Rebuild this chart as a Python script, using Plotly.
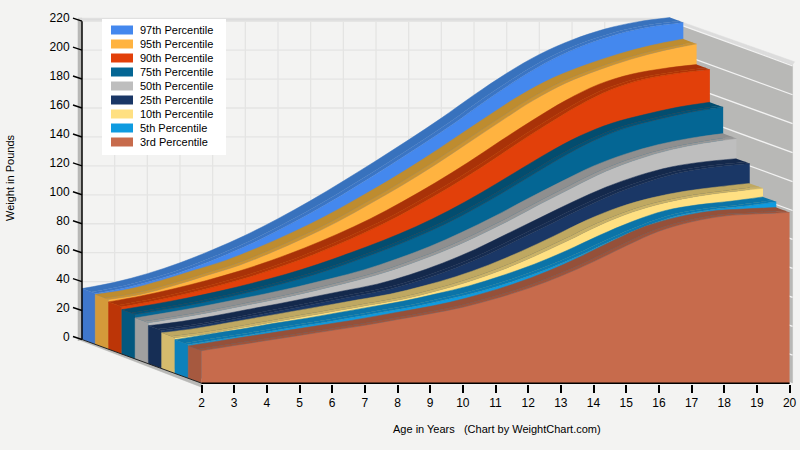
import plotly.graph_objects as go

ages = list(range(2, 21))
names = ["97th Percentile", "95th Percentile", "90th Percentile", "75th Percentile", "50th Percentile",
         "25th Percentile", "10th Percentile", "5th Percentile", "3rd Percentile"]
p97 = [35.2, 39.5, 45.5, 53, 62, 72, 83.5, 96, 109.5, 123.5, 138, 153, 169, 184, 197, 207, 214.5, 219.5, 222.5]
p95 = [34.4, 38, 44, 51, 58, 67, 77, 88, 100.5, 113.5, 127.5, 142.5, 157.5, 172, 184, 193, 200.5, 206.5, 211]
p90 = [32.7, 36.8, 41.8, 47.5, 54, 61.5, 70, 79.5, 90, 102, 115, 129, 144, 158.5, 172, 183, 190, 194, 196.7]
p75 = [30.7, 34.5, 38.7, 43.5, 49, 55, 62, 70, 78.5, 88, 99, 111.5, 125, 138.5, 150.5, 159.5, 165.5, 170.5, 174]
p50 = [28.3, 32, 36, 40.5, 45, 50, 55.5, 61.5, 69, 77.5, 87.5, 98.5, 110.5, 122, 133, 141.5, 148, 152.5, 155.7]
p25 = [26.3, 29.2, 33, 37.3, 41.5, 46, 50.5, 55, 61.5, 69.5, 79, 90, 101, 112, 122, 130, 136, 139.5, 141.7]
p10 = [24.7, 27.6, 31.5, 35.5, 39.5, 43.5, 47.5, 51.5, 57, 63.5, 71.5, 81, 91.5, 102.5, 111.5, 118, 122.5, 125.5, 128]
p5 = [23.3, 27, 30.5, 34.5, 38, 42, 46, 50, 55, 60.5, 67.5, 75.5, 85, 95.5, 105, 112.5, 116.5, 119, 122]
p3 = [22.4, 26, 29.5, 33, 36.5, 40, 44, 48, 52.5, 58.5, 65.5, 74, 84, 95, 105, 111.5, 115.5, 117, 118]
series = [p97, p95, p90, p75, p50, p25, p10, p5, p3]
front_colors = ["#4488EE", "#FFB340", "#E2400A", "#046694", "#BEBEBE", "#1A3766", "#FFE082", "#0F9BE0", "#C76B4C"]
top_colors = ["#3872BD", "#BE8C2F", "#A93208", "#034D6F", "#8F8F8F", "#14294C", "#BFA861", "#0B74A8", "#955039"]
band_colors = ["#3B75C4", "#C99334", "#B23407", "#035377", "#989898", "#162C51", "#CAB267", "#0C7AB1", "#9E543C"]
side_colors = ["#3F77CC", "#D49A3A", "#BC3507", "#03587F", "#A0A0A0", "#162E55", "#D5BB6D", "#0C81BB", "#A6593F"]
y_ticks = list(range(0, 221, 20))

PX_X = 32.67
PX_Y = 1.447
X0 = 201.5
Y0 = 339.5
DX = 13.28 / PX_X
DY = 4.85 / PX_Y
N = len(series)
BG = "#F3F3F2"
WALL = "#B8B8B6"


def off(age, w, k, px=0, py=0):
    """k = depth slots from the front plane (0) to the back wall (N); px/py nudge in pixels."""
    return age - k * DX + px / PX_X, w + (k - N) * DY - py / PX_Y


def poly(points, fill, name=None):
    return go.Scatter(x=[p[0] for p in points], y=[p[1] for p in points], mode="lines", fill="toself",
                      fillcolor=fill, name=name, line=dict(color=fill, width=0.5), hoverinfo="skip",
                      showlegend=False)


def curve(points, fill=None, color="rgba(0,0,0,0)", shape="spline", name=None):
    return go.Scatter(x=[p[0] for p in points], y=[p[1] for p in points], mode="lines",
                      fill="tonexty" if fill else "none", fillcolor=fill, name=name,
                      line=dict(color=color, width=0.5, shape=shape, smoothing=1.0), hoverinfo="skip",
                      showlegend=False)


def lines(segs, color, width):
    xs, ys = [], []
    for a, b in segs:
        xs += [a[0], b[0], None]
        ys += [a[1], b[1], None]
    return go.Scatter(x=xs, y=ys, mode="lines", line=dict(color=color, width=width),
                      hoverinfo="skip", showlegend=False)


fig = go.Figure()

# right wall
fig.add_trace(poly([off(20, 0, N), off(20, 220, N), off(20, 220, 0, 3, 0), off(20, 0, 0, 3, 0)], WALL))
# left wall strip
fig.add_trace(poly([off(2, -1, N, -4), off(2, 222, N, -4), off(2, 222, N), off(2, 0, N)], WALL))
# floor strip
fig.add_trace(poly([off(2, 0, N, -4, 0), off(2, 0, 0, 0, 4), off(2, 0, 0), off(2, 0, N)], WALL))
# top strips
fig.add_trace(poly([off(2, 220, N), off(20, 220, N), off(20, 220, N, 1, -3), off(2, 220, N, -4, -3)], "#DCDCDC"))
fig.add_trace(poly([off(20, 220, N), off(20, 220, 0, 3, 0), off(20, 220, 0, 5, -3), off(20, 220, N, 1, -3)], "#DCDCDC"))

# grid on the back wall and white lines on the side wall
grid = [(off(a, 0, N), off(a, 220, N)) for a in ages]
grid += [(off(2, t, N), off(20, t, N)) for t in y_ticks]
fig.add_trace(lines(grid, "#E4E4E3", 1.3))
fig.add_trace(lines([(off(20, t, N), off(20, t, 0, 3, 1)) for t in y_ticks], "#F2F2F2", 1.3))

# series back to front
for i, vals in enumerate(series):
    kf = N - 1 - i
    kb = N - i
    front_pts = [off(a, v, kf) for a, v in zip(ages, vals)]
    back_pts = [off(a, v, kb) for a, v in zip(ages, vals)]
    mid_pts = [off(a, v, kf + 0.3) for a, v in zip(ages, vals)]
    fig.add_trace(poly([off(2, 0, kb), back_pts[0], front_pts[0], off(2, 0, kf)], side_colors[i]))
    fig.add_trace(curve(back_pts, color=top_colors[i]))
    fig.add_trace(curve(mid_pts, fill=top_colors[i], color=top_colors[i]))
    fig.add_trace(curve(front_pts, fill=band_colors[i], color=band_colors[i]))
    fig.add_trace(curve([off(a, 0, kf) for a in ages], fill=front_colors[i], color=front_colors[i], shape="linear",
                        name=names[i]))

# axes lines and slanted ticks
fig.add_trace(lines([(off(2, 0, N), off(2, 220, N))], "#000000", 1.5))
fig.add_trace(lines([(off(2, 0, N), off(2, 0, 0))], "#222222", 1))
fig.add_trace(lines([(off(2, 0, 0), off(20, 0, 0))], "#000000", 1.5))
fig.add_trace(lines([(off(2, t, N), off(2, t, N, -9, -3)) for t in y_ticks], "#000000", 1.5))

x_range = [2 - X0 / PX_X, 2 + (800 - X0) / PX_X]
y_range = [(Y0 - 450) / PX_Y, Y0 / PX_Y]

# legend
shapes = [dict(type="rect", xref="paper", yref="paper", x0=102 / 800, x1=226 / 800, y0=1 - 155 / 450, y1=1 - 19 / 450,
               fillcolor="#FFFFFF", line=dict(width=0), layer="above")]
annotations = []
for i, nm in enumerate(names):
    yc = 30 + i * 14
    shapes.append(dict(type="rect", xref="paper", yref="paper", x0=111 / 800, x1=133 / 800,
                       y0=1 - (yc + 4.5) / 450, y1=1 - (yc - 4.5) / 450, fillcolor=front_colors[i],
                       line=dict(width=0), layer="above"))
    annotations.append(dict(text=nm, xref="paper", yref="paper", x=138 / 800, y=1 - yc / 450, xanchor="left",
                            yanchor="middle", showarrow=False, font=dict(size=11, color="#000000")))
annotations.append(dict(text="Age in Years &nbsp; (Chart by WeightChart.com)", xref="paper", yref="paper", x=497 / 800,
                        y=1 - 429 / 450, xanchor="center", yanchor="middle", showarrow=False,
                        font=dict(size=11, color="#000000")))
annotations.append(dict(text="Weight in Pounds", xref="paper", yref="paper", x=10 / 800, y=1 - 178 / 450,
                        xanchor="center", yanchor="middle", textangle=-90, showarrow=False,
                        font=dict(size=11, color="#000000")))

fig.update_layout(
    width=800, height=450, autosize=False, margin=dict(l=0, r=0, t=0, b=0),
    paper_bgcolor=BG, plot_bgcolor=BG, showlegend=False,
    font=dict(family="Liberation Sans, Arial, sans-serif", size=12, color="#000000"),
    shapes=shapes, annotations=annotations,
    xaxis=dict(range=x_range, tickvals=ages, ticks="outside", ticklen=8, tickwidth=1.5, tickcolor="#000000",
               showgrid=False, zeroline=False, showline=False, anchor="free", position=(450 - 383.5) / 450,
               tickfont=dict(size=12)),
    yaxis=dict(range=y_range, tickvals=y_ticks, ticks="outside", ticklen=10, tickcolor="rgba(0,0,0,0)",
               showgrid=False, zeroline=False, showline=False, anchor="free", position=82 / 800,
               ticklabelshift=-3, tickfont=dict(size=12)),
)
fig.write_html("out.html", post_script="document.body.style.margin='0';", config=dict(displayModeBar=False))
